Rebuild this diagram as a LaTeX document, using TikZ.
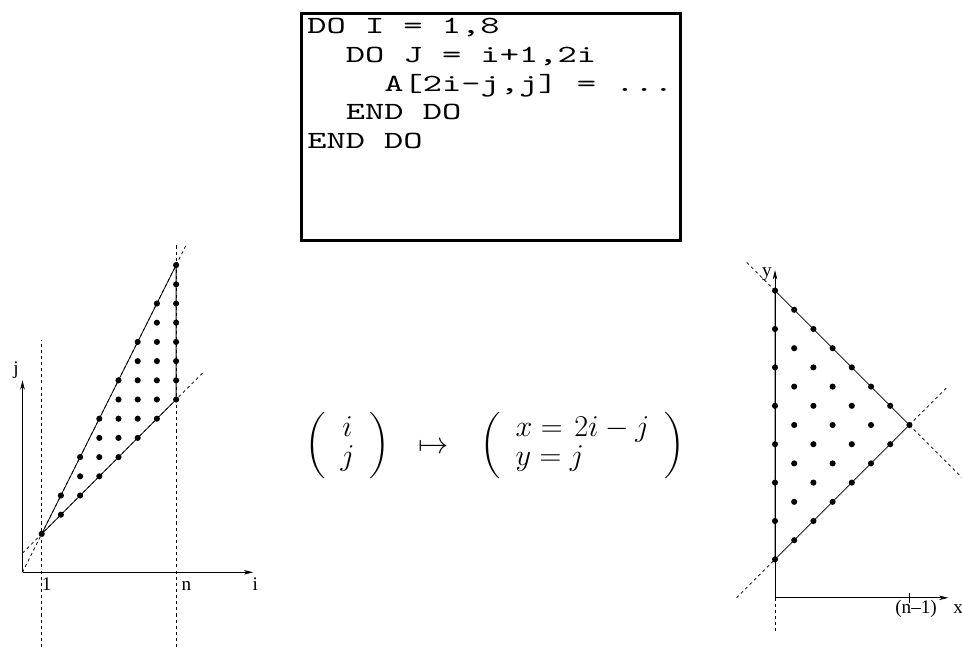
\RequirePackage{fix-cm}
\documentclass[tikz,border=0pt]{standalone}
\usepackage{exscale}
\usepackage{fontspec}
\newfontfamily\labelfont{Liberation Serif}
\newfontfamily\codefont[FakeStretch=1.486]{lmmono10-regular.otf}
\usetikzlibrary{arrows.meta}
\tikzset{
  thinline/.style={line width=0.6pt},
  axisline/.style={line width=0.6pt,-{Stealth[length=7pt,width=3.4pt,inset=2pt]}},
  dashline/.style={line width=0.6pt,dash pattern=on 2.3pt off 2.3pt},
  dotmark/.style={fill=black},
  lbl/.style={inner sep=0pt,font=\labelfont\fontsize{14.4}{17}\selectfont},
  codeline/.style={inner sep=0pt,anchor=base west,font=\codefont\fontsize{18.5}{21.5}\selectfont},
  codebox/.style={draw,line width=2.25pt,inner sep=0pt},
  mathnode/.style={inner sep=0pt,anchor=base,font=\fontsize{22.7}{21.5}\selectfont}
}
\newcommand\parstrut{\rule[-19.3pt]{0pt}{50pt}}
\begin{document}
\begin{tikzpicture}[x=0.75pt,y=-0.75pt]
\useasboundingbox (0,0) rectangle (962,648);

% ---------- code box ----------
\node[codebox,minimum width=284.6pt,minimum height=170.6pt] (box) at (490.75,126.75) {};
\node[codeline] (c1) at (307,33.5) {DO I = 1,8};
\node[codeline] (c2) at (345.6,62.2) {DO J = i+1,2i};
\node[codeline] (c3) at (384.2,91.2) {A[2i-j,j] = ...};
\node[codeline] (c4) at (345.6,119.9) {END DO};
\node[codeline] (c5) at (307,148.5) {END DO};

% ---------- formula ----------
\node[mathnode] (v1) at (347.5,453) {$\arraycolsep=11pt\left(\parstrut\begin{array}{c} i\\ j\end{array}\right)$};
\node[mathnode] (mt) at (434,453) {$\mapsto$};
\node[mathnode] (v2) at (582.5,453) {$\arraycolsep=11pt\left(\parstrut\begin{array}{l} x=\mkern2mu 2i-j\\ y=j\end{array}\right)$};

% ---------- left plot ----------
\begin{scope}[shift={(16.875pt,-429.225pt)},x=14.4pt,y=14.4pt]
  \coordinate (lo) at (0,0);
  \coordinate (lP) at (1,2);
  \coordinate (lQ) at (8,16);
  \coordinate (lR) at (8,9);
  \coordinate (liEnd) at (12.02,0);
  \coordinate (ljEnd) at (0,10);
  \draw[axisline] (lo) -- (liEnd);
  \draw[axisline] (lo) -- (ljEnd);
  \draw[dashline] (1,-3.9) -- (1,12.1);
  \draw[dashline] (8,-3.9) -- (8,17.1);
  \draw[dashline] (lo) -- (8.55,17.1);
  \draw[dashline] (0,1) -- (9.45,10.45);
  \draw[thinline] (lP) -- (lQ) -- (lR) -- cycle;
  \foreach \i in {1,...,8}{
    \pgfmathtruncatemacro\ja{\i+1}
    \pgfmathtruncatemacro\jb{2*\i}
    \foreach \j in {\ja,...,\jb}{
      \fill[dotmark] (\i,\j) circle[radius=2.3pt];
    }
  }
  \node[lbl,anchor=base west] (l1) at (1.0,-0.96) {1};
  \node[lbl,anchor=base west] (ln) at (8.28,-0.96) {n};
  \node[lbl,anchor=base west] (li) at (11.97,-0.96) {i};
  \node[lbl,anchor=base] (lj) at (-0.33,10.28) {j};
\end{scope}

% ---------- right plot ----------
\begin{scope}[shift={(581.25pt,-448.35pt)},x=14.4pt,y=14.4pt]
  \coordinate (ro) at (0,0);
  \coordinate (rP) at (0,2);
  \coordinate (rQ) at (0,16);
  \coordinate (rR) at (7,9);
  \coordinate (rxEnd) at (9.03,0);
  \coordinate (ryEnd) at (0,17.07);
  \draw[axisline] (ro) -- (rxEnd);
  \draw[axisline] (ro) -- (ryEnd);
  \draw[dashline] (ro) -- (0,-1.74);
  \draw[thinline] (7,-0.26) -- (7,0.26);
  \draw[thinline] (rP) -- (rQ) -- (rR) -- cycle;
  \draw[dashline] (-1.47,17.47) -- (rQ);
  \draw[dashline] (rR) -- (9.72,6.28);
  \draw[dashline] (-2,0) -- (rP);
  \draw[dashline] (rR) -- (8.95,10.95);
  \foreach \i in {1,...,8}{
    \pgfmathtruncatemacro\ja{\i+1}
    \pgfmathtruncatemacro\jb{2*\i}
    \foreach \j in {\ja,...,\jb}{
      \fill[dotmark] ({2*\i-\j},\j) circle[radius=2.3pt];
    }
  }
  \node[lbl,anchor=base west] (rn) at (6.25,-0.84) {(n\textendash 1)};
  \node[lbl,anchor=base west] (rx) at (9.27,-0.84) {x};
  \node[lbl,anchor=base] (ry) at (-0.42,16.76) {y};
\end{scope}
\end{tikzpicture}
\end{document}
